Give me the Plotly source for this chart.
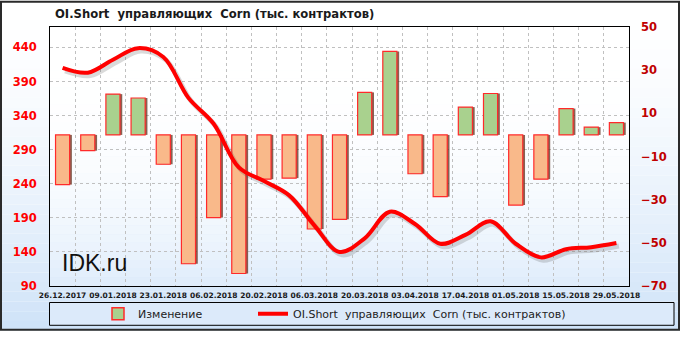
import plotly.graph_objects as go

# ---------------- data ----------------
dates = ["26.12.2017", "02.01.2018", "09.01.2018", "16.01.2018", "23.01.2018",
         "30.01.2018", "06.02.2018", "13.02.2018", "20.02.2018", "27.02.2018",
         "06.03.2018", "13.03.2018", "20.03.2018", "27.03.2018", "03.04.2018",
         "10.04.2018", "17.04.2018", "24.04.2018", "01.05.2018", "08.05.2018",
         "15.05.2018", "22.05.2018", "29.05.2018"]
change = [-23.0, -7.3, 18.9, 17.1, -13.6, -59.7, -38.3, -64.2, -20.5, -20.0,
          -43.6, -39.1, 19.7, 38.7, -18.0, -28.6, 12.9, 19.2, -32.5, -20.5,
          12.2, 3.6, 5.7]
oi_short = [410, 403, 422, 439, 426, 366, 328, 264, 244, 223, 179, 140, 160,
            199, 181, 152, 165, 185, 152, 132, 144, 147, 153]
tick_text = [d if i % 2 == 0 else "" for i, d in enumerate(dates)]
left_ticks = [90, 140, 190, 240, 290, 340, 390, 440]
right_ticks = [-70, -50, -30, -10, 10, 30, 50]

title_text = "OI.Short\u00a0 управляющих\u00a0 Corn (тыс. контрактов)"
bar_name = "Изменение"
line_name = "OI.Short\u00a0 управляющих\u00a0 Corn (тыс. контрактов)"

# ---------------- geometry helpers ----------------
W, H = 680, 340
L, R, T, B = 50, 51, 27, 46
PW, PH = W - L - R, H - T - B
LEFT_RANGE = [90, 470]
XR = [-0.5, len(dates) - 0.5]


def px(xp):
    return (xp - L) / PW


def py(yp):
    return (H - B - yp) / PH


def mix(c1, c2, t):
    return "rgb(%d,%d,%d)" % tuple(round(a + (b - a) * t) for a, b in zip(c1, c2))


shapes = []
# whole-figure gradient
white = (255, 255, 255)
blue = (206, 226, 248)
N = 34
for i in range(N):
    y0 = i * H / N
    y1 = (i + 1) * H / N
    t = ((i + 0.5) / N) ** 1.6
    shapes.append(dict(type="rect", xref="paper", yref="paper", layer="below",
                       x0=px(0), x1=px(W), y0=py(y1), y1=py(y0),
                       fillcolor=mix(white, blue, t), line=dict(width=0)))
# plot-area gradient
pblue = (222, 236, 251)
N2 = 30
for i in range(N2):
    y0 = T + i * PH / N2
    y1 = T + (i + 1) * PH / N2
    t = ((i + 0.5) / N2) ** 3
    shapes.append(dict(type="rect", xref="paper", yref="paper", layer="below",
                       x0=0, x1=1, y0=py(y1), y1=py(y0),
                       fillcolor=mix(white, pblue, t), line=dict(width=0)))
# legend box
shapes.append(dict(type="rect", xref="paper", yref="paper", layer="below",
                   x0=px(49.5), x1=px(674), y0=py(334.5), y1=py(311),
                   fillcolor="rgb(220,234,250)", line=dict(color="#000000", width=1)))
# outer border
shapes.append(dict(type="rect", xref="paper", yref="paper", layer="above",
                   x0=px(1), x1=px(679), y0=py(339), y1=py(1),
                   fillcolor="rgba(0,0,0,0)", line=dict(color="#2a2a2a", width=2)))

bar_colors = ["#a9d18e" if v >= 0 else "#f9b98a" for v in change]
BW = 0.56

# shadow offsets (pixels -> axis units)
sh_dx = 2.5 / (PW / len(dates))
sh_dy = 3.0 / (PH / (LEFT_RANGE[1] - LEFT_RANGE[0]))

fig = go.Figure()
# legend entry for bars (no data; also anchors the main x/y subplot)
fig.add_trace(go.Bar(x=[None], y=[None], xaxis="x", yaxis="y", name=bar_name,
                     legend="legend",
                     marker=dict(color="#a9d18e", line=dict(color="#ff2a2a", width=1.5))))
# bar shadow
fig.add_trace(go.Bar(x=dates, y=change, yaxis="y2", width=BW, offset=-BW / 2 + 0.09,
                     marker=dict(color="rgba(95,45,25,0.75)", line=dict(width=0)),
                     showlegend=False, hoverinfo="skip"))
# bars
fig.add_trace(go.Bar(x=dates, y=change, yaxis="y2", width=BW, offset=-BW / 2,
                     marker=dict(color=bar_colors, line=dict(color="#ff2a2a", width=1.2)),
                     showlegend=False, name=bar_name))
# line shadow (same data on shifted overlay axes)
fig.add_trace(go.Scatter(x=dates, y=oi_short, xaxis="x2", yaxis="y3", mode="lines",
                         showlegend=False, hoverinfo="skip",
                         line=dict(color="rgba(70,70,70,0.2)", width=5, shape="spline",
                                   smoothing=1.0)))
# line (on an unshifted overlay drawn above the shadow)
fig.add_trace(go.Scatter(x=dates, y=oi_short, xaxis="x3", yaxis="y4", mode="lines",
                         name=line_name, legend="legend2",
                         line=dict(color="#ff0000", width=4, shape="spline", smoothing=1.0)))

legend_common = dict(orientation="h", yanchor="middle", y=py(322.5),
                     bgcolor="rgba(0,0,0,0)", borderwidth=0,
                     font=dict(family="DejaVu Sans", size=11, color="#222222"))

fig.update_layout(
    width=W, height=H,
    margin=dict(l=L, r=R, t=T, b=B, pad=0),
    paper_bgcolor="#ffffff",
    plot_bgcolor="rgba(0,0,0,0)",
    barmode="overlay",
    shapes=shapes,
    showlegend=True,
    font=dict(family="DejaVu Sans", color="#222222"),
    title=dict(text=title_text, xref="container", x=55 / W, xanchor="left",
               yref="container", y=1 - 14 / H, yanchor="middle",
               font=dict(family="DejaVu Sans", size=11.6, color="#1a1a1a", weight="bold")),
    legend=dict(x=px(98), xanchor="left", **legend_common),
    legend2=dict(x=px(253), xanchor="left", **legend_common),
    xaxis=dict(type="category", categoryorder="array", categoryarray=dates,
               tickvals=dates, ticktext=tick_text, tickson="boundaries",
               showgrid=True, gridcolor="#c0c0c0", griddash="3px,3px", gridwidth=1,
               ticks="", showline=True, linecolor="#000000", linewidth=1, mirror=True,
               tickangle=0, ticklabelstandoff=2,
               tickfont=dict(family="DejaVu Sans", size=7.5, color="#1a1a1a", weight="bold"),
               range=XR, zeroline=False),
    xaxis2=dict(type="category", categoryorder="array", categoryarray=dates,
                overlaying="x", visible=False, range=[XR[0] - sh_dx, XR[1] - sh_dx]),
    xaxis3=dict(type="category", categoryorder="array", categoryarray=dates,
                overlaying="x", visible=False, range=XR),
    yaxis=dict(range=LEFT_RANGE, tickvals=left_ticks, showgrid=True, gridcolor="#c0c0c0",
               griddash="3px,3px", gridwidth=1, zeroline=False, ticks="",
               showline=True, linecolor="#000000", linewidth=1, mirror=True,
               ticklabelstandoff=10,
               tickfont=dict(family="DejaVu Sans", size=11.5, color="#ff0000", weight="bold")),
    yaxis2=dict(range=[-70, 50], tickvals=right_ticks, overlaying="y", side="right",
                showgrid=False, zeroline=False, ticks="", showline=False,
                ticklabelstandoff=11,
                tickfont=dict(family="DejaVu Sans", size=11.5, color="#c00000", weight="bold")),
    yaxis3=dict(range=[LEFT_RANGE[0] + sh_dy, LEFT_RANGE[1] + sh_dy], overlaying="y",
                visible=False),
    yaxis4=dict(range=LEFT_RANGE, overlaying="y", visible=False),
    annotations=[dict(text="IDK.ru", xref="paper", yref="paper", x=px(60), y=py(270),
                      xanchor="left", yanchor="middle", showarrow=False,
                      font=dict(family="Liberation Sans", size=23, color="#111111"))],
)

fig.write_html("out.html")
